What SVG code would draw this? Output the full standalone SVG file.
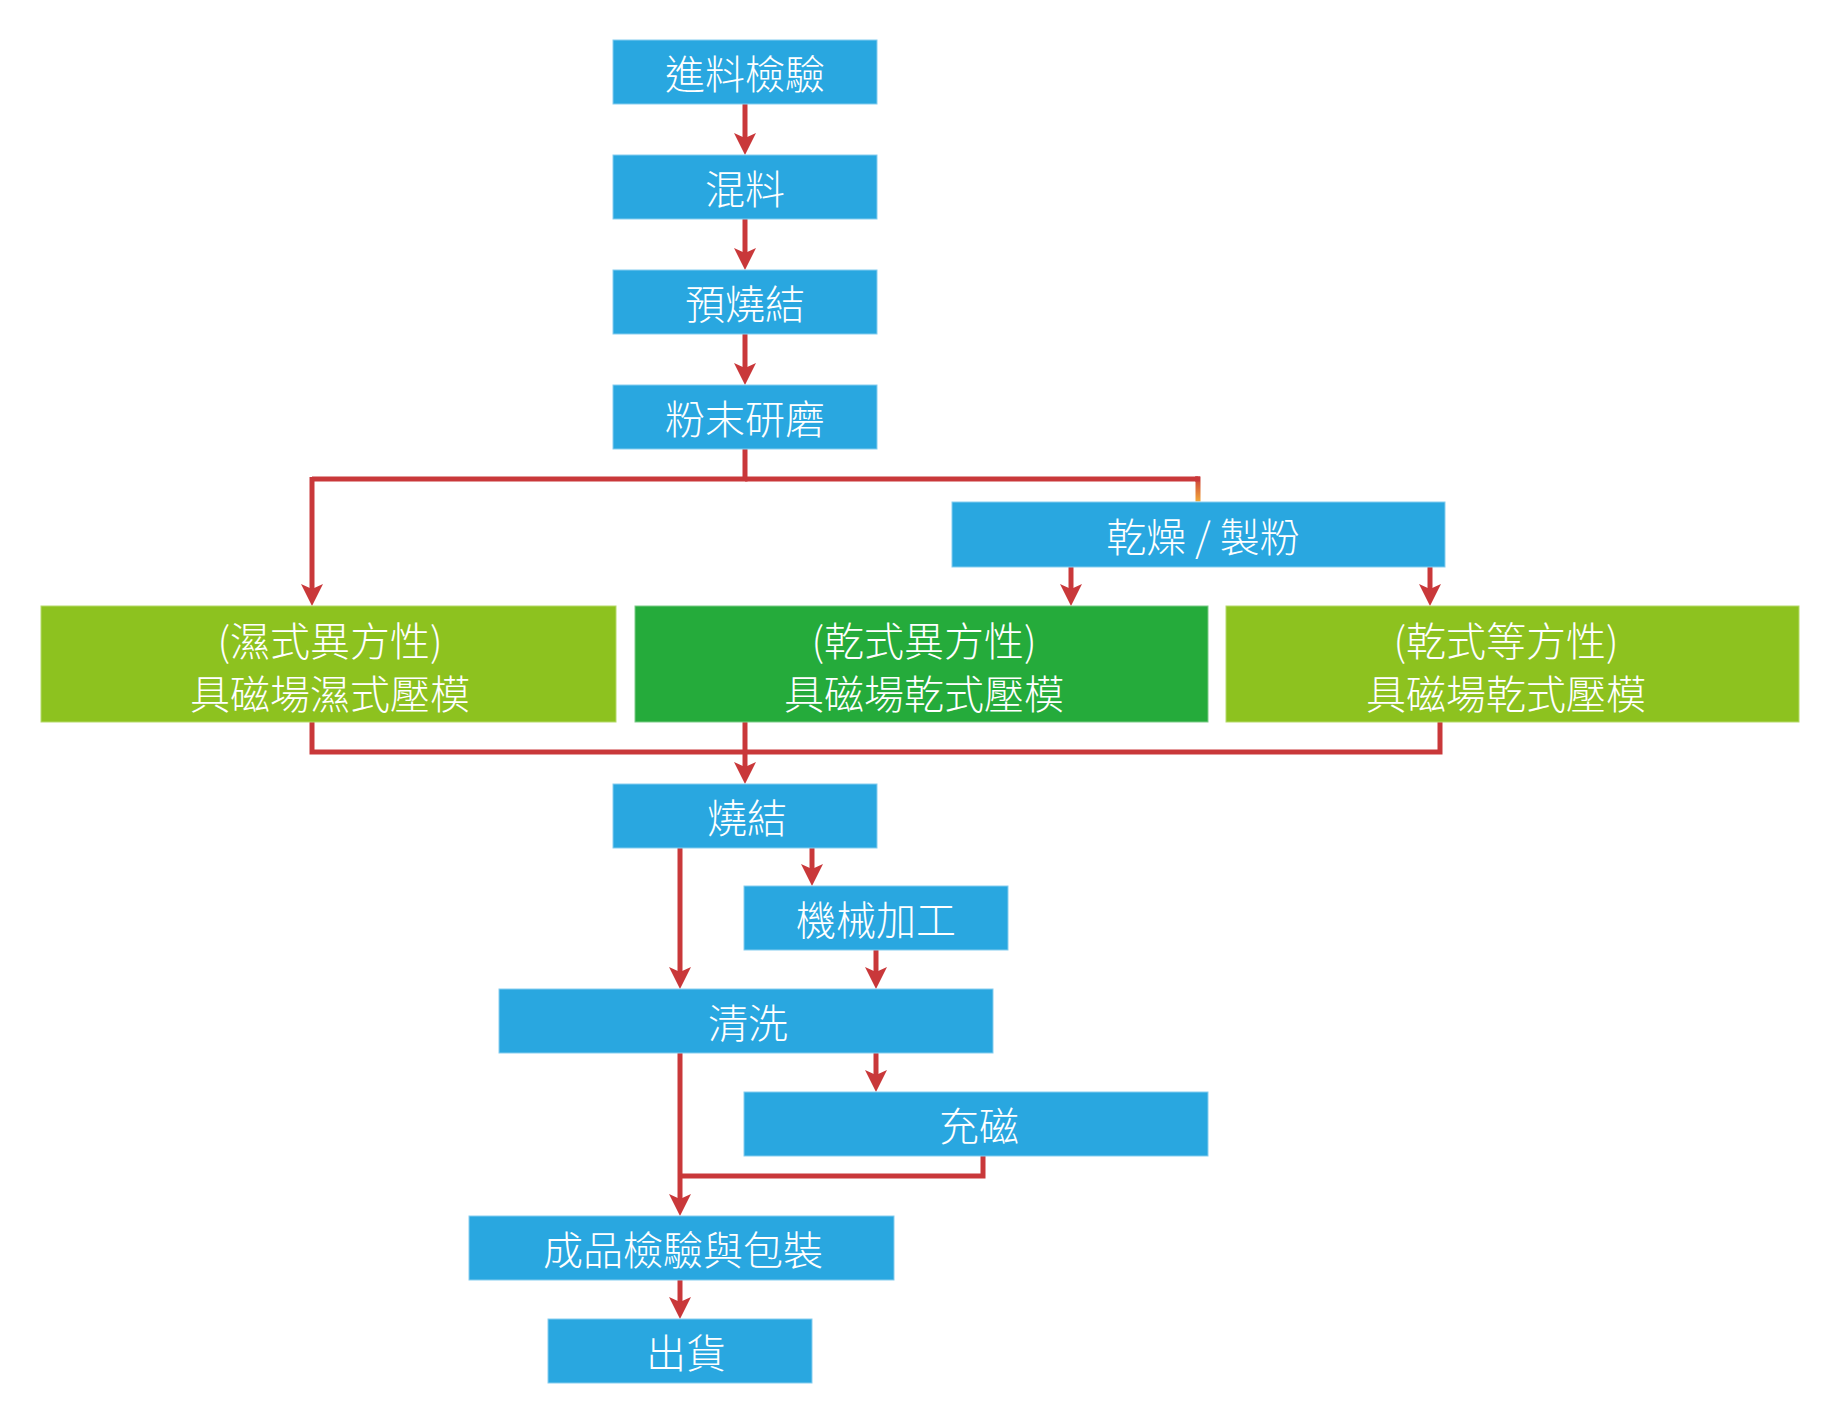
<svg xmlns="http://www.w3.org/2000/svg" width="1846" height="1407" viewBox="0 0 1846 1407">
<defs>
<style>
.box{fill:#29A7E0;stroke:#86CDEF;stroke-width:1}
.lg{fill:#8DC21F;stroke:#B5DA6A;stroke-width:1}
.dg{fill:#25AB3B;stroke:#7CCB88;stroke-width:1}
.t{font-family:"Noto Sans CJK TC","Noto Sans CJK SC",sans-serif;font-size:40px;font-weight:300;fill:#FFFFFF;text-anchor:middle;dominant-baseline:central}
.c{fill:none;stroke:#C9383A;stroke-width:5}
.a{marker-end:url(#arr)}
</style>
<marker id="arr" viewBox="0 -11 22 22" markerWidth="22" markerHeight="22" refX="10" refY="0" orient="auto" markerUnits="userSpaceOnUse">
<path d="M0,-11 L22,0 L0,11 L5,0 Z" fill="#C9383A"/>
</marker>
<linearGradient id="og" x1="0" y1="0" x2="0" y2="1">
<stop offset="0" stop-color="#C9383A"/>
<stop offset="1" stop-color="#F2A93A"/>
</linearGradient>
</defs>
<g id="connectors">
<line class="c a" x1="745" y1="104" x2="745" y2="143"/>
<line class="c a" x1="745" y1="219" x2="745" y2="258"/>
<line class="c a" x1="745" y1="334" x2="745" y2="373"/>
<polyline class="c" points="745,449 745,479 312,479"/>
<line class="c" x1="745" y1="479" x2="1198" y2="479"/>
<line class="c a" x1="312" y1="477" x2="312" y2="594"/>
<rect x="1195.500" y="476.500" width="5" height="25" fill="url(#og)"/>
<line class="c" x1="1195" y1="479" x2="1200" y2="479"/>
<line class="c a" x1="1071" y1="567" x2="1071" y2="594"/>
<line class="c a" x1="1430" y1="567" x2="1430" y2="594"/>
<polyline class="c" points="312,722 312,752 1440,752 1440,722"/>
<line class="c a" x1="745" y1="722" x2="745" y2="772"/>
<line class="c a" x1="680" y1="848" x2="680" y2="977"/>
<line class="c a" x1="812" y1="848" x2="812" y2="874"/>
<line class="c a" x1="876" y1="950" x2="876" y2="977"/>
<line class="c a" x1="876" y1="1053" x2="876" y2="1080"/>
<line class="c a" x1="680" y1="1053" x2="680" y2="1204"/>
<polyline class="c" points="983,1156 983,1176 680,1176"/>
<line class="c a" x1="680" y1="1280" x2="680" y2="1307"/>
</g>
<g id="n1"><rect class="box" x="613" y="40" width="264" height="64"/><text class="t" x="745" y="72">進料檢驗</text></g>
<g id="n2"><rect class="box" x="613" y="155" width="264" height="64"/><text class="t" x="745" y="187">混料</text></g>
<g id="n3"><rect class="box" x="613" y="270" width="264" height="64"/><text class="t" x="745" y="302">預燒結</text></g>
<g id="n4"><rect class="box" x="613" y="385" width="264" height="64"/><text class="t" x="745" y="417">粉末研磨</text></g>
<g id="n5"><rect class="box" x="952" y="502" width="493" height="65"/><text class="t" x="1203" y="535">乾燥 / 製粉</text></g>
<g id="n6"><rect class="lg" x="41" y="606" width="575" height="116"/><text class="t" x="330" y="639">(濕式異方性)</text><text class="t" x="330" y="692">具磁場濕式壓模</text></g>
<g id="n7"><rect class="dg" x="635" y="606" width="573" height="116"/><text class="t" x="924" y="639">(乾式異方性)</text><text class="t" x="924" y="692">具磁場乾式壓模</text></g>
<g id="n8"><rect class="lg" x="1226" y="606" width="573" height="116"/><text class="t" x="1506" y="639">(乾式等方性)</text><text class="t" x="1506" y="692">具磁場乾式壓模</text></g>
<g id="n9"><rect class="box" x="613" y="784" width="264" height="64"/><text class="t" x="747" y="816">燒結</text></g>
<g id="n10"><rect class="box" x="744" y="886" width="264" height="64"/><text class="t" x="876" y="918">機械加工</text></g>
<g id="n11"><rect class="box" x="499" y="989" width="494" height="64"/><text class="t" x="748" y="1021">清洗</text></g>
<g id="n12"><rect class="box" x="744" y="1092" width="464" height="64"/><text class="t" x="979" y="1124">充磁</text></g>
<g id="n13"><rect class="box" x="469" y="1216" width="425" height="64"/><text class="t" x="683" y="1248">成品檢驗與包裝</text></g>
<g id="n14"><rect class="box" x="548" y="1319" width="264" height="64"/><text class="t" x="686" y="1351">出貨</text></g>
</svg>
